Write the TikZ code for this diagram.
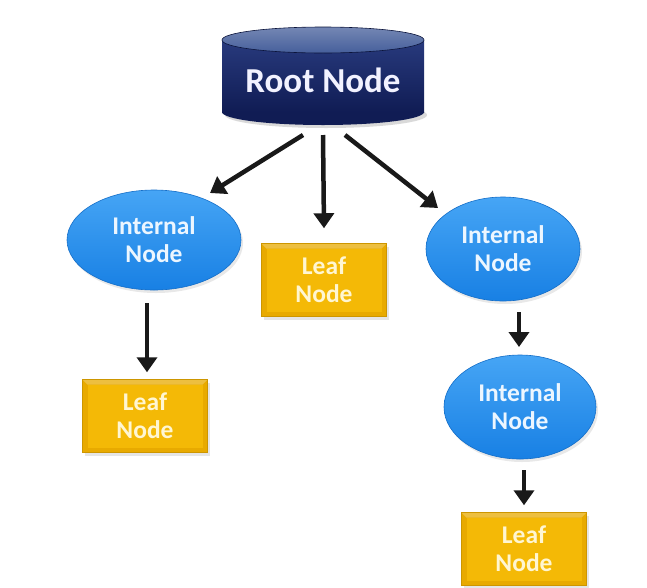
\documentclass[tikz,border=0pt]{standalone}
\usepackage{fontspec}
\setmainfont{Carlito}
\usetikzlibrary{arrows.meta,shapes.geometric,shadows}
\definecolor{navyA}{RGB}{40,58,125}
\definecolor{navyB}{RGB}{16,28,84}
\definecolor{navyTop}{RGB}{70,95,155}
\definecolor{blueA}{RGB}{70,165,245}
\definecolor{blueB}{RGB}{24,128,228}
\definecolor{blueLine}{RGB}{20,110,200}
\definecolor{goldOut}{RGB}{232,170,0}
\definecolor{goldIn}{RGB}{244,185,6}
\definecolor{goldLine}{RGB}{205,150,0}
\definecolor{txtBlue}{RGB}{236,246,255}
\definecolor{txtGold}{RGB}{255,246,210}
\tikzset{
  inode/.style={ellipse, minimum width=#1, minimum height=104pt, inner sep=0pt,
    top color=blueA, bottom color=blueB, draw=blueLine, line width=0.6pt,
    drop shadow={opacity=0.18, shadow xshift=2pt, shadow yshift=-3pt},
    text=txtBlue, font=\bfseries\fontsize{25.5}{28}\selectfont, align=center},
  lnode/.style={rectangle, minimum width=125pt, minimum height=73pt, inner sep=0pt,
    fill=goldOut, draw=goldLine, line width=0.5pt,
    drop shadow={opacity=0.2, shadow xshift=2pt, shadow yshift=-3pt},
    path picture={\fill[goldIn] ([xshift=5pt,yshift=-5pt]path picture bounding box.north west) rectangle ([xshift=-5pt,yshift=5pt]path picture bounding box.south east);
      \fill[white, opacity=0.25] (path picture bounding box.north west) -- (path picture bounding box.north east) -- ([xshift=-5pt,yshift=-5pt]path picture bounding box.north east) -- ([xshift=5pt,yshift=-5pt]path picture bounding box.north west) -- cycle;},
    text=txtGold, font=\bfseries\fontsize{25.5}{28}\selectfont, align=center},
  arr/.style={line width=4.5pt, -{Triangle[length=15pt,width=20pt]}, black!90}
}
\begin{document}
\begin{tikzpicture}[x=1pt,y=-1pt]
\useasboundingbox (0,0) rectangle (647,587);
\fill[white] (0,0) rectangle (647,587);
% root cylinder
\fill[black!15] (326,115) ellipse [x radius=101pt, y radius=13pt];
\fill[navyB] (323,112) ellipse [x radius=101pt, y radius=13pt];
\shade[top color=navyA, bottom color=navyB] (222,40) rectangle (424,112);
\shade[top color=navyTop!75!white, bottom color=navyTop] (323,40) ellipse [x radius=101pt, y radius=13pt];
\draw[navyB!70!black, line width=0.6pt] (323,40) ellipse [x radius=101pt, y radius=13pt];
\node[minimum width=202pt, minimum height=98pt, inner sep=0pt, text=white!95!blue,
  font=\bfseries\fontsize{35}{38}\selectfont] (root) at (323,80) {Root Node};
% internal nodes
\node[inode=174pt, minimum height=100pt] (l1) at (154,240) {Internal\\Node};
\node[inode=154pt] (r1) at (503,249) {Internal\\Node};
\node[inode=152pt] (r2) at (520,407) {Internal\\Node};
% leaves
\node[lnode] (leafm) at (324,280) {Leaf\\Node};
\node[lnode] (leafl) at (145,416) {Leaf\\Node};
\node[lnode] (leafr) at (524,549) {Leaf\\Node};
% arrows
\draw[arr] ([xshift=-20pt,yshift=-55pt]root.center) -- ([xshift=56pt,yshift=47pt]l1.center);
\draw[arr] ([yshift=-55pt]root.center) -- ([yshift=15pt]leafm.north);
\draw[arr] ([xshift=22pt,yshift=-55pt]root.center) -- ([xshift=-65pt,yshift=41pt]r1.center);
\draw[arr] ([xshift=-7pt,yshift=-63pt]l1.center) -- ([xshift=2pt,yshift=7pt]leafl.north);
\draw[arr] ([xshift=16pt,yshift=-63pt]r1.center) -- ([xshift=-1pt,yshift=60pt]r2.center);
\draw[arr] ([xshift=4pt,yshift=-63pt]r2.center) -- ([yshift=7pt]leafr.north);
\end{tikzpicture}
\end{document}
